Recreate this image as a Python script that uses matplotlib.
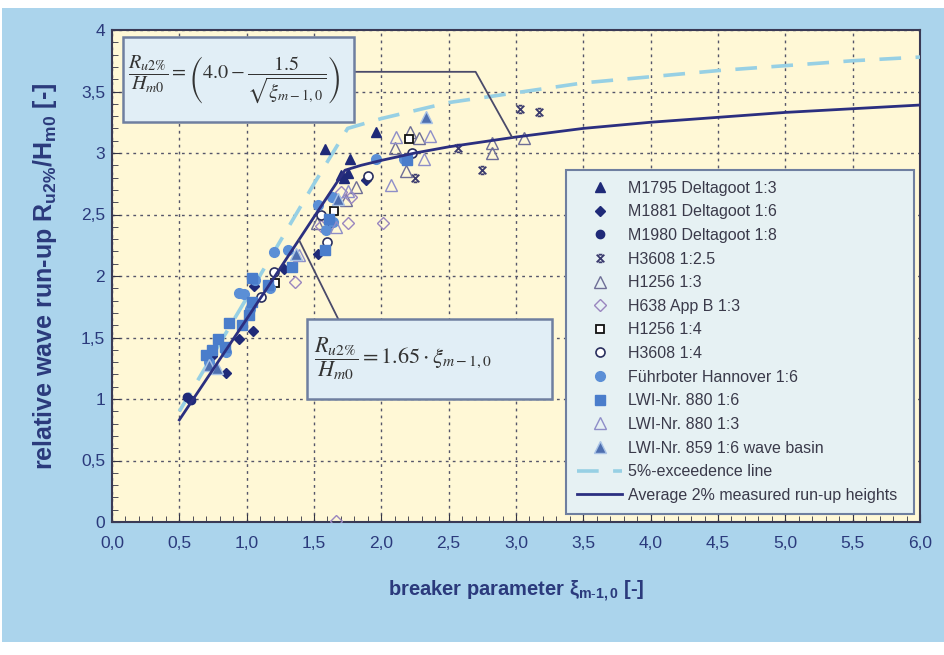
import numpy as np
import matplotlib.pyplot as plt
from matplotlib.patches import Rectangle
from matplotlib.path import Path
from matplotlib.ticker import MultipleLocator, FuncFormatter

plt.rcParams['mathtext.fontset'] = 'stix'
plt.rcParams['font.family'] = ['Liberation Sans', 'DejaVu Sans']

# lines
mean_x = [0.5, 1.0, 1.5, 1.73, 1.85, 2.0, 2.25, 2.5, 3.0, 3.5, 4.0, 4.5, 5.0, 5.5, 6.0]
mean_y = [0.83, 1.65, 2.48, 2.86, 2.90, 2.94, 3.00, 3.05, 3.13, 3.20, 3.25, 3.29, 3.33, 3.36, 3.39]
exc_x = [0.5, 1.0, 1.5, 1.75, 2.0, 2.5, 3.0, 3.5, 4.0, 4.5, 5.0, 5.5, 6.0]
exc_y = [0.90, 1.82, 2.75, 3.20, 3.28, 3.41, 3.49, 3.57, 3.62, 3.67, 3.71, 3.75, 3.78]

# measured data (breaker parameter, relative run-up)
m1795_x = [1.58, 1.96, 1.77, 1.70, 1.75, 1.72]
m1795_y = [3.03, 3.17, 2.95, 2.82, 2.84, 2.80]
m1881_x = [0.57, 0.85, 0.745, 0.94, 1.05, 1.055, 1.28, 1.53, 1.62, 1.885]
m1881_y = [1.00, 1.21, 1.35, 1.49, 1.55, 1.92, 2.06, 2.18, 2.43, 2.78]
m1980_x = [0.56, 0.59]
m1980_y = [1.02, 0.99]
h3608a_x = [2.25, 2.57, 2.75, 3.03, 3.17]
h3608a_y = [2.80, 3.04, 2.86, 3.36, 3.33]
h1256a_x = [1.52, 1.74, 1.81, 2.10, 2.21, 2.28, 2.185, 2.825, 2.825, 3.06]
h1256a_y = [2.43, 2.62, 2.72, 3.04, 3.17, 3.12, 2.85, 3.08, 3.00, 3.12]
h638_x = [1.36, 1.55, 1.70, 1.775, 1.75, 2.01, 1.66]
h638_y = [1.95, 2.41, 2.68, 2.64, 2.43, 2.43, 0.01]
h1256b_x = [1.21, 1.65, 2.205]
h1256b_y = [1.94, 2.53, 3.115]
h3608b_x = [1.11, 1.205, 1.55, 1.60, 1.90, 2.225]
h3608b_y = [1.83, 2.03, 2.50, 2.28, 2.81, 3.00]
fuhr_x = [0.72, 0.85, 0.94, 0.98, 1.027, 1.06, 1.17, 1.205, 1.31, 1.53, 1.59, 1.63, 1.64, 1.96, 2.17]
fuhr_y = [1.30, 1.38, 1.86, 1.85, 1.735, 1.97, 1.90, 2.195, 2.21, 2.58, 2.37, 2.64, 2.44, 2.95, 2.95]
lwi880a_x = [0.70, 0.745, 0.79, 0.84, 0.87, 0.965, 1.015, 1.04, 1.04, 1.16, 1.34, 1.58, 1.61, 2.19]
lwi880a_y = [1.36, 1.40, 1.49, 1.42, 1.62, 1.60, 1.685, 1.79, 1.98, 1.93, 2.07, 2.21, 2.46, 2.94]
lwi880b_x = [1.39, 1.66, 1.75, 2.07, 2.11, 2.36, 2.32]
lwi880b_y = [2.17, 2.40, 2.69, 2.74, 3.13, 3.135, 2.95]
lwi859_x = [0.72, 0.78, 1.37, 1.675, 2.33]
lwi859_y = [1.28, 1.25, 2.18, 2.63, 3.29]

labels = ["M1795 Deltagoot 1:3", "M1881 Deltagoot 1:6", "M1980 Deltagoot 1:8",
          "H3608 1:2.5", "H1256 1:3", "H638 App B 1:3", "H1256 1:4", "H3608 1:4",
          "Führboter Hannover 1:6", "LWI-Nr. 880 1:6", "LWI-Nr. 880 1:3",
          "LWI-Nr. 859 1:6 wave basin"]
series = [(m1795_x, m1795_y), (m1881_x, m1881_y), (m1980_x, m1980_y),
          (h3608a_x, h3608a_y), (h1256a_x, h1256a_y), (h638_x, h638_y),
          (h1256b_x, h1256b_y), (h3608b_x, h3608b_y), (fuhr_x, fuhr_y),
          (lwi880a_x, lwi880a_y), (lwi880b_x, lwi880b_y), (lwi859_x, lwi859_y)]

# "x" marker with caps, like the spreadsheet star marker
xcap = Path([(-1, -1), (1, 1), (-1, 1), (1, -1), (-0.5, 1), (0.5, 1), (-0.5, -1), (0.5, -1)],
            [Path.MOVETO, Path.LINETO] * 4)

navy = '#1f2a78'
styles = [
    dict(marker='^', ms=7, mfc=navy, mec=navy),
    dict(marker='D', ms=5.5, mfc=navy, mec=navy),
    dict(marker='o', ms=6, mfc=navy, mec=navy),
    dict(marker=xcap, ms=5.5, mfc='none', mec='#3b3b6e', mew=1.3),
    dict(marker='^', ms=8, mfc='none', mec='#6e6e96', mew=1.0),
    dict(marker='D', ms=6, mfc='none', mec='#9a86bf', mew=1.0),
    dict(marker='s', ms=6, mfc='white', mec='#111111', mew=1.3),
    dict(marker='o', ms=6.5, mfc='white', mec='#2a2f5e', mew=1.2),
    dict(marker='o', ms=7, mfc='#5b8fd6', mec='#5b8fd6'),
    dict(marker='s', ms=7, mfc='#4a7dcb', mec='#4a7dcb'),
    dict(marker='^', ms=8, mfc='none', mec='#8e8ec8', mew=1.0),
    dict(marker='^', ms=8, mfc='#4e6fb0', mec='#a9c3e6', mew=1.0),
]

fig = plt.figure(figsize=(9.44, 6.55), dpi=100)
fig.patch.set_facecolor('white')
fig.patches.append(Rectangle((2 / 944, 13 / 655), 942 / 944, 634 / 655, transform=fig.transFigure,
                             facecolor='#abd4ec', edgecolor='none', zorder=-10))

ax = fig.add_axes([112 / 944, (655 - 522) / 655, (920 - 112) / 944, (522 - 30) / 655])
ax.set_facecolor('#fff8d6')
ax.set_xlim(0, 6)
ax.set_ylim(0, 4)

handles = []
for (xs, ys), lab, st in zip(series, labels, styles):
    h, = ax.plot(xs, ys, linestyle='none', label=lab, zorder=4, **st)
    handles.append(h)

h_exc, = ax.plot(exc_x, exc_y, color='#97d0e4', lw=2.6, dashes=(6, 4), zorder=3,
                 label="5%-exceedence line")
h_mean, = ax.plot(mean_x, mean_y, color='#2b2f80', lw=2.0, zorder=5,
                  label="Average 2% measured run-up heights")
handles += [h_exc, h_mean]

# grid and ticks
ax.xaxis.set_major_locator(MultipleLocator(0.5))
ax.yaxis.set_major_locator(MultipleLocator(0.5))
ax.xaxis.set_minor_locator(MultipleLocator(0.1))
ax.yaxis.set_minor_locator(MultipleLocator(0.1))
ax.grid(True, which='major', color='#55556a', linestyle=(0, (2, 3)), lw=1.0)
ax.set_axisbelow(True)
ax.tick_params(which='major', direction='in', length=6, color='#333344')
ax.tick_params(axis='x', which='major', pad=10)
ax.tick_params(axis='y', which='major', pad=5)
ax.tick_params(which='minor', direction='in', length=4, color='#333344')
ax.xaxis.set_major_formatter(FuncFormatter(lambda v, p: f"{v:.1f}".replace('.', ',')))
ax.yaxis.set_major_formatter(FuncFormatter(lambda v, p: f"{v:g}".replace('.', ',')))
for lab in ax.get_xticklabels() + ax.get_yticklabels():
    lab.set_family(['Liberation Sans Narrow', 'Liberation Sans'])
    lab.set_fontsize(12.5)
    lab.set_color('#2b3a7c')
for s in ax.spines.values():
    s.set_color('#3a3a55')
    s.set_linewidth(1.5)

ax.set_xlabel(r"breaker parameter ξ$\mathregular{_{m\text{-}1,0}}$ [-]", fontsize=14.5,
              fontweight='bold', color='#2b3a7c', labelpad=20)
ax.set_ylabel(r"relative wave run-up R$\mathregular{_{u2\%}}$/H$\mathregular{_{m0}}$ [-]",
              fontsize=18, fontweight='bold', color='#2b3a7c', labelpad=16)

# formula boxes with callout lines
box_kw = dict(facecolor='#e1eef6', edgecolor='#6f7fa0', lw=1.8, zorder=6)
ax.add_patch(Rectangle((0.08, 3.25), 1.72, 0.69, **box_kw))
ax.text(0.12, 3.595, r"$\dfrac{R_{u2\%}}{H_{m0}} = \left(4.0 - \dfrac{1.5}{\sqrt{\xi_{m-1,0}}}\right)$",
        fontsize=14.5, color='#333333', va='center', ha='left', zorder=7)
ax.plot([1.80, 2.70, 2.97], [3.66, 3.66, 3.13], color='#4a4a6a', lw=1.3, zorder=5)

ax.add_patch(Rectangle((1.45, 1.00), 1.82, 0.65, **box_kw))
ax.text(1.50, 1.325, r"$\dfrac{R_{u2\%}}{H_{m0}} = 1.65 \cdot \xi_{m-1,0}$",
        fontsize=16, color='#333333', va='center', ha='left', zorder=7)
ax.plot([1.39, 1.68], [2.29, 1.65], color='#4a4a6a', lw=1.3, zorder=5)

leg = ax.legend(handles=handles, loc='lower left', bbox_to_anchor=(0.552, 0.0, 0.45, 0.77),
                mode='expand', fontsize=11.5, labelspacing=0.54, handlelength=2.8,
                handletextpad=0.4, borderpad=0.7, frameon=True, fancybox=False, framealpha=1)
leg.get_frame().set_facecolor('#e6f1f3')
leg.get_frame().set_edgecolor('#6f7fa0')
leg.get_frame().set_linewidth(1.5)
leg.set_zorder(8)
for t in leg.get_texts():
    t.set_color('#3a3a4a')

fig.savefig('out.png', dpi=100)
